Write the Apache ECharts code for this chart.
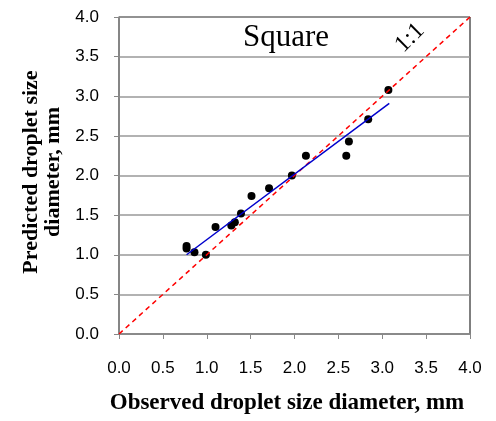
<!DOCTYPE html>
<html>
<head>
<meta charset="utf-8">
<script src="https://cdn.jsdelivr.net/npm/echarts@6/dist/echarts.min.js"></script>
<style>
  html, body { margin: 0; padding: 0; background: #fff; }
  #chart { width: 496px; height: 421px; }
</style>
</head>
<body>
<div id="chart"></div>
<script>
// observed vs predicted droplet size diameter, mm
var observed = [0.77, 0.77, 0.86, 0.99, 1.10, 1.28, 1.32, 1.39, 1.51, 1.71, 1.97, 2.13, 2.59, 2.62, 2.84, 3.07];
var predicted = [1.11, 1.08, 1.03, 1.00, 1.35, 1.37, 1.41, 1.52, 1.74, 1.84, 2.00, 2.25, 2.25, 2.43, 2.71, 3.08];
// linear trend line end points
var trendX = [0.77, 3.08];
var trendY = [1.00, 2.91];
// 1:1 reference line
var oneToOne = [0, 4];

var chart = echarts.init(document.getElementById('chart'));

var points = observed.map(function (x, i) { return [x, predicted[i]]; });
var trend = trendX.map(function (x, i) { return [x, trendY[i]]; });
var ref = oneToOne.map(function (v) { return [v, v]; });

var labelFont = { color: '#000', fontFamily: 'Liberation Sans, Arial', fontSize: 17 };
var titleFont = '"Liberation Serif", "Times New Roman"';

chart.setOption({
  animation: false,
  grid: {
    left: 119, right: 26, top: 17, bottom: 87,
    show: true, borderColor: '#000', borderWidth: 1
  },
  xAxis: {
    type: 'value', min: 0, max: 4, interval: 0.5,
    axisLine: { show: true, lineStyle: { color: '#888', width: 1.5 } },
    axisTick: { show: true, length: 5, lineStyle: { color: '#888' } },
    axisLabel: Object.assign({ margin: 26, formatter: function (v) { return v.toFixed(1); } }, labelFont),
    splitLine: { show: false }
  },
  yAxis: {
    type: 'value', min: 0, max: 4, interval: 0.5,
    axisLine: { show: true, lineStyle: { color: '#888', width: 1.5 } },
    axisTick: { show: true, length: 5, lineStyle: { color: '#888' } },
    axisLabel: Object.assign({ margin: 20, formatter: function (v) { return v.toFixed(1); } }, labelFont),
    splitLine: { show: true, lineStyle: { color: '#999', width: 1.5 } }
  },
  graphic: [
    {
      type: 'text', x: 286, y: 38,
      style: { text: 'Square', font: '31px ' + titleFont, fill: '#000', align: 'center', verticalAlign: 'middle' }
    },
    {
      type: 'text', x: 410, y: 38, rotation: Math.PI / 4,
      style: { text: '1:1', font: '24px ' + titleFont, fill: '#000', align: 'center', verticalAlign: 'middle' }
    },
    {
      type: 'text', x: 287, y: 403,
      style: { text: 'Observed droplet size diameter, mm', font: 'bold 23px ' + titleFont, fill: '#000', align: 'center', verticalAlign: 'middle' }
    },
    {
      type: 'text', x: 42, y: 172, rotation: Math.PI / 2,
      style: { text: 'Predicted droplet size\ndiameter, mm', font: 'bold 22px ' + titleFont, fill: '#000', align: 'center', verticalAlign: 'middle', lineHeight: 22 }
    }
  ],
  series: [
    {
      type: 'line', data: ref, symbol: 'none', silent: true,
      lineStyle: { color: '#ff0000', width: 1.5, type: [5, 4] }
    },
    {
      type: 'line', data: trend, symbol: 'none', silent: true,
      lineStyle: { color: '#0000cc', width: 1.5 }
    },
    {
      type: 'scatter', data: points, symbol: 'circle', symbolSize: 8,
      itemStyle: { color: '#000', opacity: 1 }
    }
  ]
});
</script>
</body>
</html>
